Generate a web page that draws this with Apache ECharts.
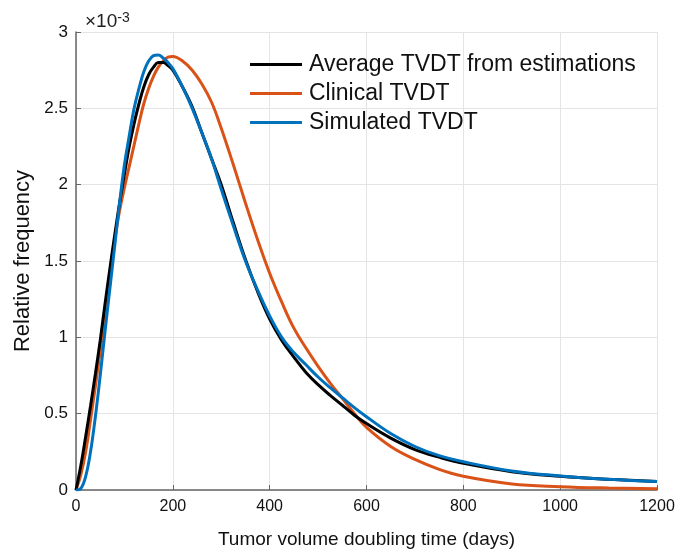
<!DOCTYPE html>
<html>
<head>
<meta charset="utf-8">
<script src="https://cdn.jsdelivr.net/npm/echarts@6/dist/echarts.min.js"></script>
<style>
html, body { margin: 0; padding: 0; background: #fff; }
#chart { width: 678px; height: 557px; }
</style>
</head>
<body>
<div id="chart"></div>
<script>
// x positions (days), values in units of 1e-3
var days = [0, 10, 20, 30, 40, 50, 60, 70, 80, 90, 100, 110, 120, 130, 140, 150, 160, 170, 180, 190, 200,
    220, 240, 260, 280, 300, 325, 350, 375, 400, 425, 450, 475, 500, 525, 550, 575, 600,
    650, 700, 750, 800, 900, 1000, 1100, 1200];

var avgTvdt = [0, 0.16, 0.35, 0.55, 0.76, 0.98, 1.22, 1.45, 1.67, 1.88, 2.07, 2.25, 2.40, 2.53, 2.64, 2.72, 2.77, 2.80, 2.80, 2.78, 2.75,
    2.64, 2.51, 2.34, 2.17, 2.00, 1.75, 1.51, 1.30, 1.12, 0.98, 0.87, 0.77, 0.69, 0.62, 0.555, 0.49, 0.435,
    0.34, 0.265, 0.215, 0.175, 0.12, 0.09, 0.07, 0.055];

var clinicalTvdt = [0, 0.10, 0.25, 0.46, 0.68, 0.91, 1.16, 1.42, 1.64, 1.83, 1.98, 2.12, 2.26, 2.40, 2.53, 2.63, 2.71, 2.77, 2.81, 2.835, 2.84,
    2.81, 2.75, 2.66, 2.54, 2.37, 2.13, 1.88, 1.64, 1.42, 1.23, 1.06, 0.93, 0.81, 0.70, 0.60, 0.50, 0.41,
    0.285, 0.20, 0.135, 0.09, 0.04, 0.022, 0.013, 0.008];

var simulatedTvdt = [0, 0.01, 0.09, 0.25, 0.48, 0.75, 1.04, 1.32, 1.60, 1.88, 2.13, 2.32, 2.50, 2.63, 2.74, 2.81, 2.845, 2.85, 2.83, 2.80, 2.76,
    2.64, 2.50, 2.34, 2.17, 1.97, 1.73, 1.50, 1.31, 1.14, 1.00, 0.90, 0.82, 0.74, 0.67, 0.605, 0.54, 0.48,
    0.37, 0.285, 0.225, 0.185, 0.125, 0.092, 0.07, 0.055];

var seriesNames = ['Average TVDT from estimations', 'Clinical TVDT', 'Simulated TVDT'];
var seriesColors = ['#000000', '#D95319', '#0072BD'];

function pairs(ys) {
    return days.map(function (d, i) { return [d, ys[i]]; });
}

var chart = echarts.init(document.getElementById('chart'));

var font = 'Liberation Sans, Arial, sans-serif';

function lineSeries(idx, ys, z) {
    return {
        name: seriesNames[idx],
        type: 'line',
        data: pairs(ys),
        smooth: 0.4,
        showSymbol: false,
        color: seriesColors[idx],
        lineStyle: { width: 3 },
        z: z
    };
}

var option = {
    animation: false,
    backgroundColor: '#fff',
    title: {
        text: '{a|×10}{b|-3}',
        left: 80,
        top: 6,
        textStyle: {
            rich: {
                a: { fontSize: 19, fontFamily: font, color: '#222', fontWeight: 'normal' },
                b: { fontSize: 14, fontFamily: font, color: '#222', fontWeight: 'normal', verticalAlign: 'top', padding: [0, 0, 8, 0] }
            }
        }
    },
    legend: {
        orient: 'vertical',
        left: 245,
        top: 48,
        itemWidth: 52,
        itemHeight: 3,
        itemGap: 6,
        icon: 'rect',
        textStyle: { fontSize: 23, lineHeight: 23, fontFamily: font, color: '#111', padding: [0, 0, 0, 2] },
        data: seriesNames
    },
    grid: {
        left: 76,
        right: 21,
        top: 32,
        bottom: 67
    },
    xAxis: {
        type: 'value',
        min: 0,
        max: 1200,
        interval: 200,
        name: 'Tumor volume doubling time (days)',
        nameLocation: 'middle',
        nameGap: 40,
        nameTextStyle: { fontSize: 19, fontFamily: font, color: '#111' },
        axisLine: { lineStyle: { color: '#666', width: 1.5 } },
        axisTick: { inside: true, length: 5, lineStyle: { color: '#666' } },
        axisLabel: { fontSize: 16, fontFamily: font, color: '#111', margin: 9, formatter: function (v) { return String(v); } },
        splitLine: { show: true, lineStyle: { color: '#e4e4e4' } }
    },
    yAxis: {
        type: 'value',
        min: 0,
        max: 3,
        interval: 0.5,
        name: 'Relative frequency',
        nameLocation: 'middle',
        nameGap: 34,
        nameTextStyle: { fontSize: 22, fontFamily: font, color: '#111' },
        axisLine: { show: true, lineStyle: { color: '#666', width: 1.5 } },
        axisTick: { show: true, inside: true, length: 5, lineStyle: { color: '#666' } },
        axisLabel: { fontSize: 17, fontFamily: font, color: '#111', margin: 8 },
        splitLine: { show: true, lineStyle: { color: '#e4e4e4' } }
    },
    series: [
        lineSeries(0, avgTvdt, 3),
        lineSeries(1, clinicalTvdt, 2),
        lineSeries(2, simulatedTvdt, 4)
    ]
};

chart.setOption(option);
</script>
</body>
</html>
